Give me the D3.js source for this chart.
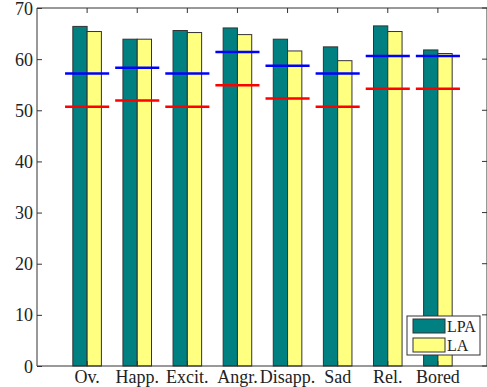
<!DOCTYPE html>
<html>
<head>
<meta charset="utf-8">
<script src="https://cdn.jsdelivr.net/npm/d3@7"></script>
<style>
  body { margin: 0; background: #fff; }
  text { font-family: "Liberation Serif", "Times New Roman", serif; fill: #222; }
</style>
</head>
<body>
<svg id="chart" width="487" height="387"></svg>
<script>
const categories = ['Ov.', 'Happ.', 'Excit.', 'Angr.', 'Disapp.', 'Sad', 'Rel.', 'Bored'];
const lpa = [66.4, 63.9, 65.6, 66.1, 63.9, 62.4, 66.5, 61.8];
const la = [65.4, 63.9, 65.2, 64.8, 61.6, 59.7, 65.4, 61.1];
const blueRef = [57.2, 58.3, 57.2, 61.4, 58.7, 57.2, 60.6, 60.6];
const redRef = [50.7, 51.9, 50.7, 54.9, 52.3, 50.7, 54.2, 54.2];
const yTicks = [0, 10, 20, 30, 40, 50, 60, 70];
const seriesNames = ['LPA', 'LA'];
const seriesColors = ['#008080', '#ffff80'];

const svg = d3.select('#chart');
const mLeft = 37, mRight = 488, mTop = 8, mBottom = 366;

// x as numeric positions 1..8 like matlab bar groups
const xScale = d3.scaleLinear().domain([0, 9]).range([mLeft, mRight]);
const yScale = d3.scaleLinear().domain([0, 70]).range([mBottom, mTop]);
const barW = 0.285; // in x units

const groups = svg.append('g');
categories.forEach((c, i) => {
    const vals = [lpa[i], la[i]];
    vals.forEach((v, j) => {
        const x0 = xScale(i + 1 + (j - 1) * barW);
        const x1 = xScale(i + 1 + j * barW);
        groups.append('rect')
            .attr('x', x0)
            .attr('y', yScale(v))
            .attr('width', x1 - x0)
            .attr('height', mBottom - yScale(v))
            .attr('fill', seriesColors[j])
            .attr('stroke', '#333')
            .attr('stroke-width', 1);
    });
});

// reference lines
const drawRef = (arr, color) => {
    svg.append('g').selectAll('line')
        .data(arr)
        .join('line')
        .attr('x1', (d, i) => xScale(i + 1 - 0.44))
        .attr('x2', (d, i) => xScale(i + 1 + 0.44))
        .attr('y1', d => yScale(d))
        .attr('y2', d => yScale(d))
        .attr('stroke', color)
        .attr('stroke-width', 2.5);
};
drawRef(blueRef, '#0000ff');
drawRef(redRef, '#ff0000');

// axes box
const axisColor = '#333';
svg.append('line').attr('x1', mLeft).attr('x2', mLeft).attr('y1', mTop).attr('y2', mBottom)
    .attr('stroke', axisColor);
svg.append('line').attr('x1', mLeft).attr('x2', mRight).attr('y1', mBottom).attr('y2', mBottom)
    .attr('stroke', axisColor);
svg.append('line').attr('x1', mLeft).attr('x2', mRight).attr('y1', mTop).attr('y2', mTop)
    .attr('stroke', axisColor);
svg.append('line').attr('x1', mRight - 1).attr('x2', mRight - 1).attr('y1', mTop).attr('y2', mBottom)
    .attr('stroke', axisColor);

// y ticks (inward, both sides)
const yAxis = d3.axisLeft(yScale).tickValues(yTicks).tickSize(-5).tickPadding(4);
const ya = svg.append('g').attr('transform', `translate(${mLeft},0)`).call(yAxis);
ya.select('.domain').remove();
ya.selectAll('line').attr('stroke', axisColor);
ya.selectAll('text').attr('font-size', 18).attr('dy', '0.34em');

svg.append('g').selectAll('line')
    .data(yTicks)
    .join('line')
    .attr('x1', mRight - 1).attr('x2', mRight - 6)
    .attr('y1', d => yScale(d)).attr('y2', d => yScale(d))
    .attr('stroke', axisColor);

// x ticks: top inward, labels at bottom
svg.append('g').selectAll('line')
    .data(categories)
    .join('line')
    .attr('x1', (d, i) => xScale(i + 1)).attr('x2', (d, i) => xScale(i + 1))
    .attr('y1', mTop).attr('y2', mTop + 5)
    .attr('stroke', axisColor);
svg.append('g').selectAll('line')
    .data(categories)
    .join('line')
    .attr('x1', (d, i) => xScale(i + 1)).attr('x2', (d, i) => xScale(i + 1))
    .attr('y1', mBottom).attr('y2', mBottom - 5)
    .attr('stroke', axisColor);
svg.append('g').selectAll('text')
    .data(categories)
    .join('text')
    .attr('x', (d, i) => xScale(i + 1))
    .attr('y', 383)
    .attr('text-anchor', 'middle')
    .attr('font-size', 18)
    .text(d => d);

// legend
const lg = svg.append('g').attr('transform', 'translate(407,316)');
lg.append('rect').attr('width', 73).attr('height', 39)
    .attr('fill', '#fff').attr('stroke', '#333');
seriesNames.forEach((n, j) => {
    lg.append('rect')
        .attr('x', 6).attr('y', 3 + j * 19)
        .attr('width', 32).attr('height', 14)
        .attr('fill', seriesColors[j]).attr('stroke', '#333');
    lg.append('text')
        .attr('x', 40).attr('y', 16 + j * 19)
        .attr('font-size', 16)
        .text(n);
});
</script>
</body>
</html>
